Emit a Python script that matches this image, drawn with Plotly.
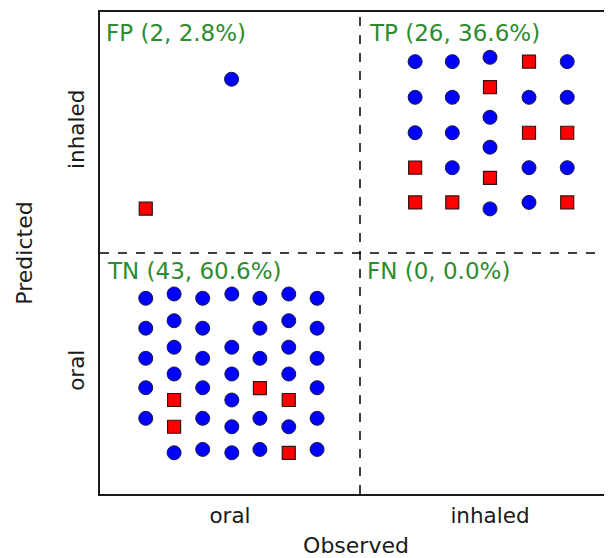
import plotly.graph_objects as go

# Categories / tick labels
categories = ["oral", "inhaled"]
cat_pos = [0.5, 1.5]

# Quadrant labels
quad_labels = ["FP (2, 2.8%)", "TP (26, 36.6%)", "TN (43, 60.6%)", "FN (0, 0.0%)"]
quad_x = [0.016, 1.025, 0.019, 1.019]
quad_y = [1.913, 1.913, 0.925, 0.925]

# Blue circles (jittered positions within quadrants)
blue_x = [
    0.506,
    1.212, 1.212, 1.212,
    1.355, 1.355, 1.355, 1.355,
    1.500, 1.500, 1.500, 1.500,
    1.650, 1.650, 1.650,
    1.797, 1.797, 1.797,
    0.176, 0.176, 0.176, 0.176, 0.176,
    0.285, 0.285, 0.285, 0.285, 0.285,
    0.395, 0.395, 0.395, 0.395, 0.395, 0.395,
    0.507, 0.507, 0.507, 0.507, 0.507, 0.507,
    0.615, 0.615, 0.615, 0.615, 0.615,
    0.726, 0.726, 0.726, 0.726, 0.726,
    0.835, 0.835, 0.835, 0.835, 0.835, 0.835,
]
blue_y = [
    1.721,
    1.794, 1.646, 1.499,
    1.794, 1.646, 1.499, 1.354,
    1.812, 1.563, 1.439, 1.183,
    1.646, 1.354, 1.210,
    1.794, 1.646, 1.354,
    0.812, 0.688, 0.563, 0.441, 0.314,
    0.830, 0.719, 0.609, 0.498, 0.171,
    0.812, 0.688, 0.563, 0.441, 0.314, 0.185,
    0.830, 0.609, 0.498, 0.390, 0.279, 0.171,
    0.812, 0.688, 0.563, 0.314, 0.185,
    0.830, 0.719, 0.609, 0.498, 0.279,
    0.812, 0.688, 0.563, 0.441, 0.314, 0.185,
]

# Red squares
red_x = [
    0.176,
    1.212, 1.212, 1.355, 1.500, 1.500, 1.650, 1.650, 1.797, 1.797,
    0.285, 0.285, 0.615, 0.726, 0.726,
]
red_y = [
    1.184,
    1.354, 1.210, 1.210, 1.688, 1.312, 1.794, 1.499, 1.499, 1.210,
    0.390, 0.279, 0.439, 0.390, 0.171,
]

X_MAX = 512 / 260
FONT = "DejaVu Sans"
TXT = "#1a1a1a"

fig = go.Figure()
fig.add_trace(go.Scatter(
    x=blue_x, y=blue_y, mode="markers",
    marker=dict(symbol="circle", size=14, color="#0000ff",
                line=dict(color="#1a1a40", width=1)),
    hoverinfo="skip",
))
fig.add_trace(go.Scatter(
    x=red_x, y=red_y, mode="markers",
    marker=dict(symbol="square", size=13, color="#ff0000",
                line=dict(color="#3a1010", width=1.2)),
    hoverinfo="skip",
))

for t, x, y in zip(quad_labels, quad_x, quad_y):
    fig.add_annotation(x=x, y=y, text=t, showarrow=False, xanchor="left",
                       yanchor="middle",
                       font=dict(family=FONT, size=23, color="#2e8b2e"))

fig.add_shape(type="line", x0=1, x1=1, y0=0, y1=2, xref="x", yref="y",
              line=dict(color="black", width=1.5, dash="dash"))
fig.add_shape(type="line", x0=0, x1=X_MAX, y0=1, y1=1, xref="x", yref="y",
              line=dict(color="black", width=1.5, dash="dash"))

fig.update_layout(
    width=604, height=550,
    margin=dict(l=92, r=0, t=4, b=64),
    plot_bgcolor="white", paper_bgcolor="white",
    showlegend=False, hovermode=False,
    font=dict(family=FONT, color=TXT),
    xaxis=dict(
        range=[0, X_MAX], tickmode="array", tickvals=cat_pos, ticktext=categories,
        showgrid=False, zeroline=False, showline=True, mirror=True,
        linecolor=TXT, linewidth=2, ticks="", ticklabelstandoff=1,
        tickfont=dict(family=FONT, size=21.5, color=TXT),
        title=dict(text="Observed", standoff=16,
                   font=dict(family=FONT, size=22, color=TXT)),
        automargin=False, fixedrange=True,
    ),
    yaxis=dict(
        range=[0, 2], tickmode="array", tickvals=cat_pos, ticktext=categories,
        showgrid=False, zeroline=False, showline=True, mirror=False,
        linecolor=TXT, linewidth=2, ticks="", tickangle=-90,
        ticklabelstandoff=5,
        tickfont=dict(family=FONT, size=21.5, color=TXT),
        title=dict(text="Predicted", standoff=26,
                   font=dict(family=FONT, size=22, color=TXT)),
        automargin=False, fixedrange=True,
    ),
)

fig.write_html("out.html")
